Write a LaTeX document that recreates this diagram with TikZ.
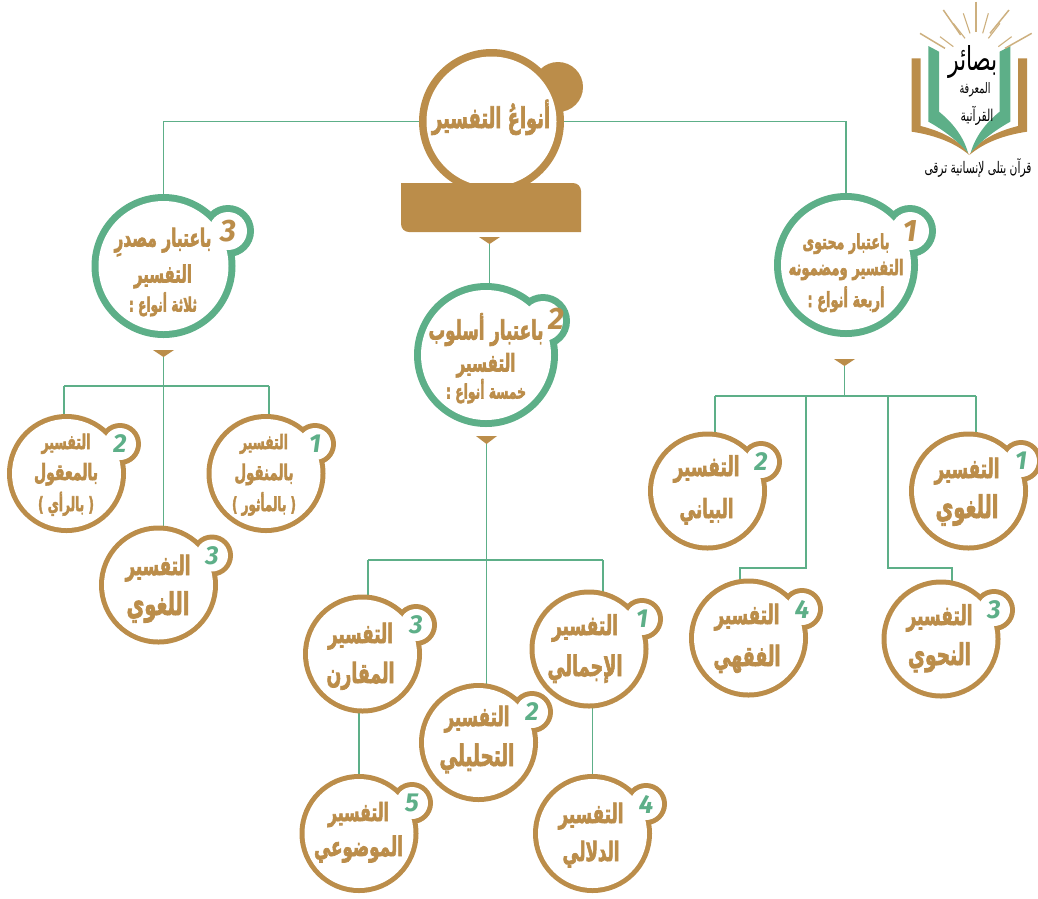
\documentclass[tikz,border=0pt]{standalone}
\usepackage{fontspec}
\usepackage{graphicx}
\usetikzlibrary{backgrounds}
\TeXXeTstate=1
\newfontfamily\arfont[Script=Arabic,BoldFeatures={FakeBold=3}]{DejaVu Sans}
\newfontfamily\logofont[Script=Arabic]{DejaVu Sans}
\newfontfamily\numfont{Fira Sans}
\definecolor{gold}{HTML}{BB8D4A}
\definecolor{leaf}{HTML}{5DAF88}
\definecolor{ray}{HTML}{CDB07F}
\newcommand{\arl}[2]{\smash{\resizebox{#1pt}{!}{\scalebox{1}[1.6]{\fontsize{20}{20}\selectfont\arfont\bfseries #2}}}}
\newcommand{\arb}[2]{\resizebox{#1pt}{!}{\scalebox{1}[1.5]{\fontsize{20}{20}\selectfont\logofont #2}}}
\tikzset{
  disc/.style={circle,draw=none,inner sep=0pt,outer sep=0pt,minimum size=#1},
  label text/.style={align=center,inner sep=0pt,outer sep=0pt,text=gold,font=\fontsize{1}{1}\selectfont},
  link/.style={draw=leaf,line width=1.8pt},
  tick/.style={fill=gold},
  big number/.style={text=gold,inner sep=0pt,font=\numfont\itshape\bfseries\fontsize{31}{31}\selectfont},
  small number/.style={text=leaf,inner sep=0pt,font=\numfont\itshape\bfseries\fontsize{26}{26}\selectfont},
  beam/.style={draw=ray,line width=1.1pt}
}
% #1 name, #2 ring colour, #3 big centre, #4 big radius, #5 small centre, #6 small radius, #7 ring width
\newcommand{\ringpair}[7]{%
  \node[disc=2*#6 pt,fill=#2] (#1s) at #5 {};
  \node[disc=2*#4 pt,fill=#2] (#1) at #3 {};
  \node[disc=2*#6 pt-2*#7 pt,fill=white] (#1si) at #5 {};
  \node[disc=2*#4 pt-2*#7 pt,fill=white] (#1i) at #3 {};
}
% #1 name, #2 big centre, #3 small centre, #4 radius, #5 number
\newcommand{\leafbubble}[5]{%
  \ringpair{#1}{gold}{#2}{#4}{#3}{21}{5}
  \node[small number] (#1n) at #3 {#5};
}
\begin{document}
\begin{tikzpicture}[x=1pt,y=-1pt]
\useasboundingbox (0,0) rectangle (1038,898);
% main
\node[disc=50pt,fill=gold] (mains) at (558,87) {};
\node[disc=145pt,fill=gold] (main) at (491.5,121.5) {};
\node[disc=130pt,fill=white] (maini) at (491.5,121.5) {};
\fill[gold] (401,183) [rounded corners=8pt] -- (581,183) [sharp corners] -- (581,232) [rounded corners=8pt] -- (401,232) [sharp corners] -- cycle;
\node[label text] (maint) at (491,128) {\arl{118}{\beginR أنواعُ التفسير\endR}};
\fill[tick] (479,237) -- (500,237) -- (489.5,244) -- cycle;
\coordinate (triM0) at (489.5,244);
% second level
\ringpair{gL}{leaf}{(163.5,266)}{72}{(228,231)}{26}{7}
\ringpair{gM}{leaf}{(486,355)}{72}{(543,321)}{27}{7}
\ringpair{gR}{leaf}{(846,265)}{72}{(910,231)}{26}{7}
\node[big number] (nL) at (228,231) {3};
\node[big number] (nM) at (556,319) {2};
\node[big number] (nR) at (910,231) {1};
\node[label text] (tL) at (163,279) {\arl{97}{\beginR باعتبار مصدرِ\endR}\\[35pt]\arl{58}{\beginR التفسير\endR}\\[28pt]\arl{68}{\beginR ثلاثة أنواع :\endR}};
\node[label text] (tR) at (846,278) {\arl{87}{\beginR باعتبار محتوى\endR}\\[25pt]\arl{115}{\beginR التفسير ومضمونه\endR}\\[31pt]\arl{77}{\beginR أربعة أنواع :\endR}};
\node[label text] (tM) at (486,369) {\arl{115}{\beginR باعتبار أسلوب\endR}\\[31pt]\arl{59}{\beginR التفسير\endR}\\[26pt]\arl{80}{\beginR خمسة أنواع :\endR}};
\fill[tick] (153,350) -- (174,350) -- (163.5,357) -- cycle;
\coordinate (triL) at (163.5,357);
\fill[tick] (476,436) -- (497,436) -- (486.5,444) -- cycle;
\coordinate (triM) at (486.5,444);
\fill[tick] (834,359) -- (855,359) -- (844.5,366) -- cycle;
\coordinate (triR) at (844.5,366);
% third level
\leafbubble{a}{(266,473.5)}{(315,444)}{59.5}{1}
\leafbubble{b}{(66.5,473.5)}{(120,444)}{59.5}{2}
\leafbubble{c}{(158.5,585)}{(212,555.5)}{59.5}{3}
\leafbubble{d}{(968.5,491)}{(1021,461)}{59.5}{1}
\leafbubble{e}{(707.5,491)}{(761,462)}{59.5}{2}
\leafbubble{f}{(941,639)}{(994,610)}{59.5}{3}
\leafbubble{g}{(748.5,638)}{(802,609)}{59.5}{4}
\leafbubble{h}{(589,649)}{(642,619)}{59.5}{1}
\leafbubble{i}{(478.5,742.5)}{(532,712)}{59.5}{2}
\leafbubble{j}{(362.5,654)}{(416,625)}{59.5}{3}
\leafbubble{k}{(592.5,833.5)}{(646,804)}{59.5}{4}
\leafbubble{m}{(359,833.5)}{(412,803)}{59.5}{5}
\node[label text] (ta) at (264,480) {\arl{48}{\beginR التفسير\endR}\\[30pt]\arl{59}{\beginR بالمنقول\endR}\\[30pt]\arl{64}{\beginR ( بالمأثور )\endR}};
\node[label text] (tb) at (66,480) {\arl{49}{\beginR التفسير\endR}\\[30pt]\arl{64}{\beginR بالمعقول\endR}\\[30pt]\arl{56}{\beginR ( بالرأي )\endR}};
\node[label text] (tc) at (158,595) {\arl{65}{\beginR التفسير\endR}\\[39pt]\arl{63}{\beginR اللغوي\endR}};
\node[label text] (td) at (967,498) {\arl{65}{\beginR التفسير\endR}\\[39pt]\arl{63}{\beginR اللغوي\endR}};
\node[label text] (te) at (706.5,497) {\arl{66}{\beginR التفسير\endR}\\[41pt]\arl{54}{\beginR البياني\endR}};
\node[label text] (tf) at (939.5,645) {\arl{66}{\beginR التفسير\endR}\\[39pt]\arl{63}{\beginR النحوي\endR}};
\node[label text] (tg) at (747,645) {\arl{65}{\beginR التفسير\endR}\\[41pt]\arl{67}{\beginR الفقهي\endR}};
\node[label text] (th) at (585,655.5) {\arl{66}{\beginR التفسير\endR}\\[40pt]\arl{75}{\beginR الإجمالي\endR}};
\node[label text] (ti) at (477,746) {\arl{65}{\beginR التفسير\endR}\\[39pt]\arl{75}{\beginR التحليلي\endR}};
\node[label text] (tj) at (360.5,663) {\arl{65}{\beginR التفسير\endR}\\[39pt]\arl{68}{\beginR المقارن\endR}};
\node[label text] (tk) at (591,842) {\arl{65}{\beginR التفسير\endR}\\[37pt]\arl{57}{\beginR الدلالي\endR}};
\node[label text] (tm) at (358.5,838.5) {\arl{61}{\beginR التفسير\endR}\\[34pt]\arl{89}{\beginR الموضوعي\endR}};
% connectors
\begin{scope}[on background layer]
\draw[link] (gL.center) |- (main.center) -| (gR.center);
\draw[link] (triM0) -- (triM0 |- gM.center);
\draw[link] (triL) -- (triL |- c.center);
\coordinate (busLa) at (269,386);
\coordinate (busLb) at (64,386);
\draw[link] (busLb) -- (busLa);
\draw[link] (busLa) -- (busLa |- a.center);
\draw[link] (busLb) -- (busLb |- b.center);
\draw[link] (triM) -- (triM |- i.center);
\coordinate (busMh) at (603,560);
\coordinate (busMj) at (368,560);
\draw[link] (busMj) -- (busMh);
\draw[link] (busMh) -- (busMh |- h.center);
\draw[link] (busMj) -- (busMj |- j.center);
\draw[link] (k.center) -- (k.center |- h.center);
\draw[link] (m.center) -- (m.center |- j.center);
\draw[link] (triR) -- (844.5,396) coordinate (busR);
\coordinate (busRd) at (976,396);
\coordinate (busRe) at (715,396);
\coordinate (busRf) at (888,396);
\coordinate (busRg) at (806,396);
\draw[link] (busRe) -- (busRd);
\draw[link] (busRd) -- (busRd |- d.center);
\draw[link] (busRe) -- (busRe |- e.center);
\coordinate (elbowF) at (952,568);
\coordinate (elbowG) at (740,568);
\draw[link] (busRf) |- (elbowF) -- (elbowF |- f.center);
\draw[link] (busRg) |- (elbowG) -- (elbowG |- g.center);
\end{scope}
% logo
\begin{scope}[shift={(890,0)},scale=1/3]
\fill[gold] (65,175) -- (92,175) -- (92,378) .. controls (160,395) and (215,425) .. (238,465) .. controls (190,425) and (130,405) .. (65,395) -- cycle;
\fill[gold] (411,175) -- (384,175) -- (384,378) .. controls (316,395) and (261,425) .. (238,465) .. controls (286,425) and (346,405) .. (411,395) -- cycle;
\fill[leaf] (115,138) -- (147,155) -- (147,335) .. controls (190,370) and (220,410) .. (234,458) .. controls (200,420) and (160,390) .. (115,365) -- cycle;
\fill[leaf] (361,138) -- (329,155) -- (329,335) .. controls (286,370) and (256,410) .. (242,458) .. controls (276,420) and (316,390) .. (361,365) -- cycle;
\draw[beam,line width=1.5pt] (258,5) -- (258,95);
\draw[beam,line width=1.5pt] (160,30) -- (212,105);
\draw[beam,line width=1.5pt] (357,30) -- (300,100);
\draw[beam,line width=1.5pt] (90,100) -- (165,145);
\draw[beam,line width=1.5pt] (425,100) -- (345,145);
\draw[beam] (220,40) -- (240,100);
\draw[beam] (295,40) -- (278,100);
\draw[beam] (150,110) -- (190,140);
\draw[beam] (365,110) -- (325,140);
\draw[beam] (190,70) -- (225,115);
\draw[beam] (330,70) -- (295,115);
\end{scope}
\node[inner sep=0pt,text=black] (logoa) at (973,62) {\arb{50}{\beginR بصائر\endR}};
\node[inner sep=0pt,text=black] (logob) at (975,90) {\arb{31}{\beginR المعرفة\endR}};
\node[inner sep=0pt,text=black] (logoc) at (977,116) {\arb{33}{\beginR القرآنية\endR}};
\node[inner sep=0pt,text=black] (logod) at (978,168) {\arb{107}{\beginR قرآن يتلى لإنسانية ترقى\endR}};
\end{tikzpicture}
\end{document}
